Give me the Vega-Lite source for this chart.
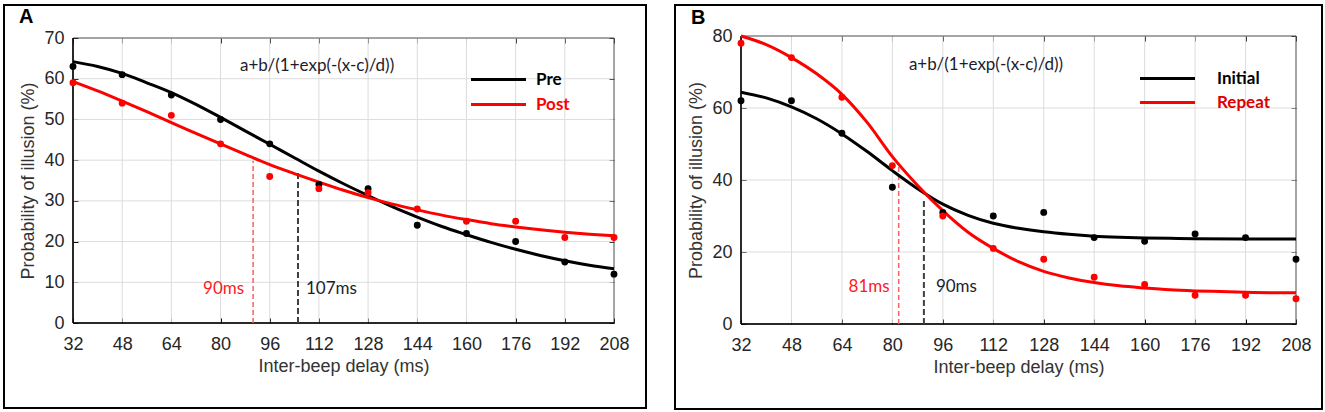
{
  "$schema": "https://vega.github.io/schema/vega-lite/v6.json",
  "background": "white",
  "padding": {"left": 3, "top": 4, "right": 2, "bottom": 0},
  "spacing": 27,
  "resolve": {"scale": {"color": "independent"}, "legend": {"color": "independent"}},
  "datasets": {
    "a_grid_x": [{"t": 48, "lo": 0, "hi": 70}, {"t": 64, "lo": 0, "hi": 70}, {"t": 80, "lo": 0, "hi": 70}, {"t": 96, "lo": 0, "hi": 70}, {"t": 112, "lo": 0, "hi": 70}, {"t": 128, "lo": 0, "hi": 70}, {"t": 144, "lo": 0, "hi": 70}, {"t": 160, "lo": 0, "hi": 70}, {"t": 176, "lo": 0, "hi": 70}, {"t": 192, "lo": 0, "hi": 70}],
    "b_grid_x": [{"t": 48, "lo": 0, "hi": 80}, {"t": 64, "lo": 0, "hi": 80}, {"t": 80, "lo": 0, "hi": 80}, {"t": 96, "lo": 0, "hi": 80}, {"t": 112, "lo": 0, "hi": 80}, {"t": 128, "lo": 0, "hi": 80}, {"t": 144, "lo": 0, "hi": 80}, {"t": 160, "lo": 0, "hi": 80}, {"t": 176, "lo": 0, "hi": 80}, {"t": 192, "lo": 0, "hi": 80}],
    "a_grid_y": [{"t": 10, "lo": 32, "hi": 208}, {"t": 20, "lo": 32, "hi": 208}, {"t": 30, "lo": 32, "hi": 208}, {"t": 40, "lo": 32, "hi": 208}, {"t": 50, "lo": 32, "hi": 208}, {"t": 60, "lo": 32, "hi": 208}],
    "b_grid_y": [{"t": 20, "lo": 32, "hi": 208}, {"t": 40, "lo": 32, "hi": 208}, {"t": 60, "lo": 32, "hi": 208}],
    "a_box": [{"x0": 32, "x1": 208, "y0": 0, "y1": 70}],
    "b_box": [{"x0": 32, "x1": 208, "y0": 0, "y1": 80}],
    "a_pts": [
      {"delay": 32, "pct": 63, "group": "Pre"}, {"delay": 48, "pct": 61, "group": "Pre"}, {"delay": 64, "pct": 56, "group": "Pre"},
      {"delay": 80, "pct": 50, "group": "Pre"}, {"delay": 96, "pct": 44, "group": "Pre"}, {"delay": 112, "pct": 34, "group": "Pre"},
      {"delay": 128, "pct": 33, "group": "Pre"}, {"delay": 144, "pct": 24, "group": "Pre"}, {"delay": 160, "pct": 22, "group": "Pre"},
      {"delay": 176, "pct": 20, "group": "Pre"}, {"delay": 192, "pct": 15, "group": "Pre"}, {"delay": 208, "pct": 12, "group": "Pre"},
      {"delay": 32, "pct": 59, "group": "Post"}, {"delay": 48, "pct": 54, "group": "Post"}, {"delay": 64, "pct": 51, "group": "Post"},
      {"delay": 80, "pct": 44, "group": "Post"}, {"delay": 96, "pct": 36, "group": "Post"}, {"delay": 112, "pct": 33, "group": "Post"},
      {"delay": 128, "pct": 32, "group": "Post"}, {"delay": 144, "pct": 28, "group": "Post"}, {"delay": 160, "pct": 25, "group": "Post"},
      {"delay": 176, "pct": 25, "group": "Post"}, {"delay": 192, "pct": 21, "group": "Post"}, {"delay": 208, "pct": 21, "group": "Post"}
    ],
    "a_fit": [
      {"delay": 32, "pct": 64.2, "group": "Pre"}, {"delay": 40, "pct": 63.0, "group": "Pre"}, {"delay": 48, "pct": 61.3, "group": "Pre"},
      {"delay": 56, "pct": 59.0, "group": "Pre"}, {"delay": 64, "pct": 56.6, "group": "Pre"}, {"delay": 72, "pct": 53.7, "group": "Pre"},
      {"delay": 80, "pct": 50.5, "group": "Pre"}, {"delay": 88, "pct": 47.2, "group": "Pre"}, {"delay": 96, "pct": 43.9, "group": "Pre"},
      {"delay": 104, "pct": 40.6, "group": "Pre"}, {"delay": 112, "pct": 37.3, "group": "Pre"}, {"delay": 120, "pct": 34.2, "group": "Pre"},
      {"delay": 128, "pct": 31.3, "group": "Pre"}, {"delay": 136, "pct": 28.5, "group": "Pre"}, {"delay": 144, "pct": 26.0, "group": "Pre"},
      {"delay": 152, "pct": 23.7, "group": "Pre"}, {"delay": 160, "pct": 21.7, "group": "Pre"}, {"delay": 168, "pct": 19.8, "group": "Pre"},
      {"delay": 176, "pct": 18.1, "group": "Pre"}, {"delay": 184, "pct": 16.6, "group": "Pre"}, {"delay": 192, "pct": 15.3, "group": "Pre"},
      {"delay": 200, "pct": 14.2, "group": "Pre"}, {"delay": 208, "pct": 13.3, "group": "Pre"},
      {"delay": 32, "pct": 59.3, "group": "Post"}, {"delay": 40, "pct": 57.0, "group": "Post"}, {"delay": 48, "pct": 54.5, "group": "Post"},
      {"delay": 56, "pct": 51.9, "group": "Post"}, {"delay": 64, "pct": 49.2, "group": "Post"}, {"delay": 72, "pct": 46.6, "group": "Post"},
      {"delay": 80, "pct": 44.0, "group": "Post"}, {"delay": 88, "pct": 41.4, "group": "Post"}, {"delay": 96, "pct": 38.9, "group": "Post"},
      {"delay": 104, "pct": 36.7, "group": "Post"}, {"delay": 112, "pct": 34.6, "group": "Post"}, {"delay": 120, "pct": 32.6, "group": "Post"},
      {"delay": 128, "pct": 30.8, "group": "Post"}, {"delay": 136, "pct": 29.2, "group": "Post"}, {"delay": 144, "pct": 27.8, "group": "Post"},
      {"delay": 152, "pct": 26.5, "group": "Post"}, {"delay": 160, "pct": 25.4, "group": "Post"}, {"delay": 168, "pct": 24.4, "group": "Post"},
      {"delay": 176, "pct": 23.6, "group": "Post"}, {"delay": 184, "pct": 22.9, "group": "Post"}, {"delay": 192, "pct": 22.3, "group": "Post"},
      {"delay": 200, "pct": 21.8, "group": "Post"}, {"delay": 208, "pct": 21.4, "group": "Post"}
    ],
    "a_thr": [
      {"group": "Post", "delay": 90.6, "bottom": 0, "top": 39.8, "labelPct": 8.4, "label": "90ms"},
      {"group": "Pre", "delay": 105.2, "bottom": 0, "top": 36.9, "labelPct": 8.4, "label": "107ms"}
    ],
    "a_note": [{"delay": 111.4, "pct": 63.1, "text": "a+b/(1+exp(-(x-c)/d))"}],
    "b_pts": [
      {"delay": 32, "pct": 62, "group": "Initial"}, {"delay": 48, "pct": 62, "group": "Initial"}, {"delay": 64, "pct": 53, "group": "Initial"},
      {"delay": 80, "pct": 38, "group": "Initial"}, {"delay": 96, "pct": 31, "group": "Initial"}, {"delay": 112, "pct": 30, "group": "Initial"},
      {"delay": 128, "pct": 31, "group": "Initial"}, {"delay": 144, "pct": 24, "group": "Initial"}, {"delay": 160, "pct": 23, "group": "Initial"},
      {"delay": 176, "pct": 25, "group": "Initial"}, {"delay": 192, "pct": 24, "group": "Initial"}, {"delay": 208, "pct": 18, "group": "Initial"},
      {"delay": 32, "pct": 78, "group": "Repeat"}, {"delay": 48, "pct": 74, "group": "Repeat"}, {"delay": 64, "pct": 63, "group": "Repeat"},
      {"delay": 80, "pct": 44, "group": "Repeat"}, {"delay": 96, "pct": 30, "group": "Repeat"}, {"delay": 112, "pct": 21, "group": "Repeat"},
      {"delay": 128, "pct": 18, "group": "Repeat"}, {"delay": 144, "pct": 13, "group": "Repeat"}, {"delay": 160, "pct": 11, "group": "Repeat"},
      {"delay": 176, "pct": 8, "group": "Repeat"}, {"delay": 192, "pct": 8, "group": "Repeat"}, {"delay": 208, "pct": 7, "group": "Repeat"}
    ],
    "b_fit": [
      {"delay": 32, "pct": 64.4, "group": "Initial"}, {"delay": 40, "pct": 62.8, "group": "Initial"}, {"delay": 48, "pct": 60.3, "group": "Initial"},
      {"delay": 56, "pct": 57.0, "group": "Initial"}, {"delay": 64, "pct": 52.8, "group": "Initial"}, {"delay": 72, "pct": 47.9, "group": "Initial"},
      {"delay": 80, "pct": 42.6, "group": "Initial"}, {"delay": 88, "pct": 37.6, "group": "Initial"}, {"delay": 96, "pct": 33.3, "group": "Initial"},
      {"delay": 104, "pct": 30.2, "group": "Initial"}, {"delay": 112, "pct": 28.0, "group": "Initial"}, {"delay": 120, "pct": 26.6, "group": "Initial"},
      {"delay": 128, "pct": 25.6, "group": "Initial"}, {"delay": 136, "pct": 24.9, "group": "Initial"}, {"delay": 144, "pct": 24.4, "group": "Initial"},
      {"delay": 152, "pct": 24.1, "group": "Initial"}, {"delay": 160, "pct": 23.9, "group": "Initial"}, {"delay": 168, "pct": 23.8, "group": "Initial"},
      {"delay": 176, "pct": 23.7, "group": "Initial"}, {"delay": 192, "pct": 23.6, "group": "Initial"}, {"delay": 208, "pct": 23.6, "group": "Initial"},
      {"delay": 32, "pct": 80.0, "group": "Repeat"}, {"delay": 40, "pct": 77.6, "group": "Repeat"}, {"delay": 48, "pct": 74.0, "group": "Repeat"},
      {"delay": 56, "pct": 69.5, "group": "Repeat"}, {"delay": 64, "pct": 63.8, "group": "Repeat"}, {"delay": 72, "pct": 56.0, "group": "Repeat"},
      {"delay": 80, "pct": 46.5, "group": "Repeat"}, {"delay": 88, "pct": 38.5, "group": "Repeat"}, {"delay": 96, "pct": 31.5, "group": "Repeat"},
      {"delay": 104, "pct": 25.5, "group": "Repeat"}, {"delay": 112, "pct": 21.0, "group": "Repeat"}, {"delay": 120, "pct": 17.3, "group": "Repeat"},
      {"delay": 128, "pct": 14.6, "group": "Repeat"}, {"delay": 136, "pct": 12.8, "group": "Repeat"}, {"delay": 144, "pct": 11.5, "group": "Repeat"},
      {"delay": 152, "pct": 10.6, "group": "Repeat"}, {"delay": 160, "pct": 10.0, "group": "Repeat"}, {"delay": 168, "pct": 9.5, "group": "Repeat"},
      {"delay": 176, "pct": 9.2, "group": "Repeat"}, {"delay": 184, "pct": 9.0, "group": "Repeat"}, {"delay": 192, "pct": 8.8, "group": "Repeat"},
      {"delay": 200, "pct": 8.7, "group": "Repeat"}, {"delay": 208, "pct": 8.7, "group": "Repeat"}
    ],
    "b_thr": [
      {"group": "Repeat", "delay": 82.0, "bottom": 0, "top": 44.4, "labelPct": 10.3, "label": "81ms"},
      {"group": "Initial", "delay": 90.0, "bottom": 0, "top": 34.2, "labelPct": 10.3, "label": "90ms"}
    ],
    "b_note": [{"delay": 109.7, "pct": 71.9, "text": "a+b/(1+exp(-(x-c)/d))"}]
  },
  "hconcat": [
    {
      "width": 642,
      "height": 403,
      "title": {"text": "A", "anchor": "start", "offset": -22, "dx": 15, "fontSize": 20, "fontWeight": "bold", "color": "#000000", "font": "Liberation Sans"},
      "resolve": {"axis": {"x": "independent", "y": "independent"}},
      "layer": [
        {
          "data": {"name": "a_grid_x"},
          "mark": {"type": "rule", "color": "#dcdcdc", "strokeWidth": 1},
          "encoding": {
            "x": {"field": "t", "type": "quantitative",
              "scale": {"domain": [32, 208], "range": [69, 610], "nice": false, "zero": false},
              "axis": {"orient": "bottom", "offset": -90, "values": [32, 48, 64, 80, 96, 112, 128, 144, 160, 176, 192, 208],
                "title": "Inter-beep delay (ms)", "grid": false, "domain": false, "labelFlush": false,
                "tickSize": 5, "tickColor": "#000000", "tickWidth": 1, "labelPadding": 12, "titlePadding": 4}},
            "y": {"field": "lo", "type": "quantitative",
              "scale": {"domain": [0, 70], "range": [318, 33], "nice": false, "zero": false}, "axis": null},
            "y2": {"field": "hi"}
          }
        },
        {
          "data": {"name": "a_grid_y"},
          "mark": {"type": "rule", "color": "#dcdcdc", "strokeWidth": 1},
          "encoding": {
            "y": {"field": "t", "type": "quantitative",
              "axis": {"orient": "left", "offset": -74, "values": [0, 10, 20, 30, 40, 50, 60, 70],
                "title": "Probability of illusion (%)", "grid": false, "domain": false,
                "tickSize": 5, "tickColor": "#000000", "tickWidth": 1, "labelPadding": 9, "titlePadding": 6}},
            "x": {"field": "lo", "type": "quantitative", "axis": null},
            "x2": {"field": "hi"}
          }
        },
        {
          "data": {"name": "a_box"},
          "mark": {"type": "rect", "fill": null, "fillOpacity": 0, "stroke": "#4a4a4a", "strokeWidth": 1},
          "encoding": {
            "x": {"field": "x0", "type": "quantitative", "axis": null},
            "x2": {"field": "x1"},
            "y": {"field": "y0", "type": "quantitative", "axis": null},
            "y2": {"field": "y1"}
          }
        },
        {
          "data": {"name": "a_box"},
          "mark": {"type": "rule", "color": "#000000", "strokeWidth": 1.5},
          "encoding": {
            "x": {"field": "x0", "type": "quantitative", "axis": null},
            "y": {"field": "y0", "type": "quantitative", "axis": null},
            "y2": {"field": "y1"}
          }
        },
        {
          "data": {"name": "a_box"},
          "mark": {"type": "rule", "color": "#000000", "strokeWidth": 1.5},
          "encoding": {
            "x": {"field": "x0", "type": "quantitative", "axis": null},
            "x2": {"field": "x1"},
            "y": {"field": "y0", "type": "quantitative", "axis": null}
          }
        },
        {
          "data": {"name": "a_thr"},
          "transform": [{"filter": "datum.group === 'Post'"}],
          "mark": {"type": "rule", "color": "#ff6060", "strokeWidth": 1.5, "strokeDash": [5, 3]},
          "encoding": {
            "x": {"field": "delay", "type": "quantitative", "axis": null},
            "y": {"field": "bottom", "type": "quantitative", "axis": null},
            "y2": {"field": "top"}
          }
        },
        {
          "data": {"name": "a_thr"},
          "transform": [{"filter": "datum.group === 'Pre'"}],
          "mark": {"type": "rule", "color": "#404040", "strokeWidth": 2, "strokeDash": [6, 3]},
          "encoding": {
            "x": {"field": "delay", "type": "quantitative", "axis": null},
            "y": {"field": "bottom", "type": "quantitative", "axis": null},
            "y2": {"field": "top"}
          }
        },
        {
          "data": {"name": "a_fit"},
          "mark": {"type": "line", "strokeWidth": 3, "interpolate": "monotone"},
          "encoding": {
            "x": {"field": "delay", "type": "quantitative",
              "axis": {"orient": "top", "offset": -38, "values": [32, 48, 64, 80, 96, 112, 128, 144, 160, 176, 192, 208],
                "labels": false, "title": null, "grid": false, "domain": false,
                "tickSize": 5, "tickColor": "#333333", "tickWidth": 1}},
            "y": {"field": "pct", "type": "quantitative",
              "axis": {"orient": "right", "offset": -37, "values": [0, 10, 20, 30, 40, 50, 60, 70],
                "labels": false, "title": null, "grid": false, "domain": false,
                "tickSize": 5, "tickColor": "#333333", "tickWidth": 1}},
            "color": {"field": "group", "type": "nominal",
              "scale": {"domain": ["Pre", "Post"], "range": ["#000000", "#ff0000"]},
              "legend": {"orient": "none", "legendX": 486, "legendY": 66, "title": null, "padding": 0,
                "symbolType": "M-5,0H5", "symbolSize": 121, "symbolStrokeWidth": 3,
                "labelOffset": 29, "rowPadding": 7, "labelFontSize": 17, "labelFontWeight": "bold", "labelFont": "Lato",
                "encode": {"labels": {"update": {"fill": {"signal": "datum.label === 'Post' ? '#ff0000' : '#000000'"}}}}}}
          }
        },
        {
          "data": {"name": "a_pts"},
          "mark": {"type": "circle", "size": 48, "opacity": 1},
          "encoding": {
            "x": {"field": "delay", "type": "quantitative", "axis": null},
            "y": {"field": "pct", "type": "quantitative", "axis": null},
            "color": {"field": "group", "type": "nominal", "legend": null}
          }
        },
        {
          "data": {"name": "a_note"},
          "mark": {"type": "text", "font": "Lato", "fontSize": 17, "color": "#1c1c30"},
          "encoding": {
            "x": {"field": "delay", "type": "quantitative", "axis": null},
            "y": {"field": "pct", "type": "quantitative", "axis": null},
            "text": {"field": "text", "type": "nominal"}
          }
        },
        {
          "data": {"name": "a_thr"},
          "transform": [{"filter": "datum.group === 'Post'"}],
          "mark": {"type": "text", "font": "Lato", "fontSize": 17, "color": "#ff1a1a", "align": "right", "dx": -9},
          "encoding": {
            "x": {"field": "delay", "type": "quantitative", "axis": null},
            "y": {"field": "labelPct", "type": "quantitative", "axis": null},
            "text": {"field": "label", "type": "nominal"}
          }
        },
        {
          "data": {"name": "a_thr"},
          "transform": [{"filter": "datum.group === 'Pre'"}],
          "mark": {"type": "text", "font": "Lato", "fontSize": 17, "color": "#1c1c30", "align": "left", "dx": 8},
          "encoding": {
            "x": {"field": "delay", "type": "quantitative", "axis": null},
            "y": {"field": "labelPct", "type": "quantitative", "axis": null},
            "text": {"field": "label", "type": "nominal"}
          }
        }
      ]
    },
    {
      "width": 647,
      "height": 404,
      "title": {"text": "B", "anchor": "start", "offset": -23, "dx": 16, "fontSize": 20, "fontWeight": "bold", "color": "#000000", "font": "Liberation Sans"},
      "resolve": {"axis": {"x": "independent", "y": "independent"}},
      "layer": [
        {
          "data": {"name": "b_grid_x"},
          "mark": {"type": "rule", "color": "#dcdcdc", "strokeWidth": 1},
          "encoding": {
            "x": {"field": "t", "type": "quantitative",
              "scale": {"domain": [32, 208], "range": [66, 621], "nice": false, "zero": false},
              "axis": {"orient": "bottom", "offset": -90, "values": [32, 48, 64, 80, 96, 112, 128, 144, 160, 176, 192, 208],
                "title": "Inter-beep delay (ms)", "grid": false, "domain": false, "labelFlush": false,
                "tickSize": 5, "tickColor": "#000000", "tickWidth": 1, "labelPadding": 12, "titlePadding": 4}},
            "y": {"field": "lo", "type": "quantitative",
              "scale": {"domain": [0, 80], "range": [319, 31], "nice": false, "zero": false}, "axis": null},
            "y2": {"field": "hi"}
          }
        },
        {
          "data": {"name": "b_grid_y"},
          "mark": {"type": "rule", "color": "#dcdcdc", "strokeWidth": 1},
          "encoding": {
            "y": {"field": "t", "type": "quantitative",
              "axis": {"orient": "left", "offset": -71, "values": [0, 20, 40, 60, 80],
                "title": "Probability of illusion (%)", "grid": false, "domain": false,
                "tickSize": 5, "tickColor": "#000000", "tickWidth": 1, "labelPadding": 9, "titlePadding": 6}},
            "x": {"field": "lo", "type": "quantitative", "axis": null},
            "x2": {"field": "hi"}
          }
        },
        {
          "data": {"name": "b_box"},
          "mark": {"type": "rect", "fill": null, "fillOpacity": 0, "stroke": "#4a4a4a", "strokeWidth": 1},
          "encoding": {
            "x": {"field": "x0", "type": "quantitative", "axis": null},
            "x2": {"field": "x1"},
            "y": {"field": "y0", "type": "quantitative", "axis": null},
            "y2": {"field": "y1"}
          }
        },
        {
          "data": {"name": "b_box"},
          "mark": {"type": "rule", "color": "#000000", "strokeWidth": 1.5},
          "encoding": {
            "x": {"field": "x0", "type": "quantitative", "axis": null},
            "y": {"field": "y0", "type": "quantitative", "axis": null},
            "y2": {"field": "y1"}
          }
        },
        {
          "data": {"name": "b_box"},
          "mark": {"type": "rule", "color": "#000000", "strokeWidth": 1.5},
          "encoding": {
            "x": {"field": "x0", "type": "quantitative", "axis": null},
            "x2": {"field": "x1"},
            "y": {"field": "y0", "type": "quantitative", "axis": null}
          }
        },
        {
          "data": {"name": "b_thr"},
          "transform": [{"filter": "datum.group === 'Repeat'"}],
          "mark": {"type": "rule", "color": "#ff6060", "strokeWidth": 1.5, "strokeDash": [5, 3]},
          "encoding": {
            "x": {"field": "delay", "type": "quantitative", "axis": null},
            "y": {"field": "bottom", "type": "quantitative", "axis": null},
            "y2": {"field": "top"}
          }
        },
        {
          "data": {"name": "b_thr"},
          "transform": [{"filter": "datum.group === 'Initial'"}],
          "mark": {"type": "rule", "color": "#404040", "strokeWidth": 2, "strokeDash": [6, 3]},
          "encoding": {
            "x": {"field": "delay", "type": "quantitative", "axis": null},
            "y": {"field": "bottom", "type": "quantitative", "axis": null},
            "y2": {"field": "top"}
          }
        },
        {
          "data": {"name": "b_fit"},
          "mark": {"type": "line", "strokeWidth": 3, "interpolate": "monotone"},
          "encoding": {
            "x": {"field": "delay", "type": "quantitative",
              "axis": {"orient": "top", "offset": -36, "values": [32, 48, 64, 80, 96, 112, 128, 144, 160, 176, 192, 208],
                "labels": false, "title": null, "grid": false, "domain": false,
                "tickSize": 5, "tickColor": "#333333", "tickWidth": 1}},
            "y": {"field": "pct", "type": "quantitative",
              "axis": {"orient": "right", "offset": -31, "values": [0, 20, 40, 60, 80],
                "labels": false, "title": null, "grid": false, "domain": false,
                "tickSize": 5, "tickColor": "#333333", "tickWidth": 1}},
            "color": {"field": "group", "type": "nominal",
              "scale": {"domain": ["Initial", "Repeat"], "range": ["#000000", "#ff0000"]},
              "legend": {"orient": "none", "legendX": 484, "legendY": 65, "title": null, "padding": 0,
                "symbolType": "M-5,0H5", "symbolSize": 121, "symbolStrokeWidth": 3,
                "labelOffset": 41, "rowPadding": 6, "labelFontSize": 17, "labelFontWeight": "bold", "labelFont": "Lato",
                "encode": {"labels": {"update": {"fill": {"signal": "datum.label === 'Repeat' ? '#dd0000' : '#000000'"}}}}}}
          }
        },
        {
          "data": {"name": "b_pts"},
          "mark": {"type": "circle", "size": 48, "opacity": 1},
          "encoding": {
            "x": {"field": "delay", "type": "quantitative", "axis": null},
            "y": {"field": "pct", "type": "quantitative", "axis": null},
            "color": {"field": "group", "type": "nominal", "legend": null}
          }
        },
        {
          "data": {"name": "b_note"},
          "mark": {"type": "text", "font": "Lato", "fontSize": 17, "color": "#1c1c30"},
          "encoding": {
            "x": {"field": "delay", "type": "quantitative", "axis": null},
            "y": {"field": "pct", "type": "quantitative", "axis": null},
            "text": {"field": "text", "type": "nominal"}
          }
        },
        {
          "data": {"name": "b_thr"},
          "transform": [{"filter": "datum.group === 'Repeat'"}],
          "mark": {"type": "text", "font": "Lato", "fontSize": 17, "color": "#ff1a1a", "align": "right", "dx": -9},
          "encoding": {
            "x": {"field": "delay", "type": "quantitative", "axis": null},
            "y": {"field": "labelPct", "type": "quantitative", "axis": null},
            "text": {"field": "label", "type": "nominal"}
          }
        },
        {
          "data": {"name": "b_thr"},
          "transform": [{"filter": "datum.group === 'Initial'"}],
          "mark": {"type": "text", "font": "Lato", "fontSize": 17, "color": "#1c1c30", "align": "left", "dx": 12},
          "encoding": {
            "x": {"field": "delay", "type": "quantitative", "axis": null},
            "y": {"field": "labelPct", "type": "quantitative", "axis": null},
            "text": {"field": "label", "type": "nominal"}
          }
        }
      ]
    }
  ],
  "config": {
    "view": {"stroke": "#000000", "strokeWidth": 2},
    "axis": {
      "zindex": 1,
      "labelFont": "Liberation Sans", "labelFontSize": 18, "labelColor": "#262626",
      "titleFont": "Liberation Sans", "titleFontSize": 18, "titleFontWeight": "normal", "titleColor": "#333333"
    }
  }
}
